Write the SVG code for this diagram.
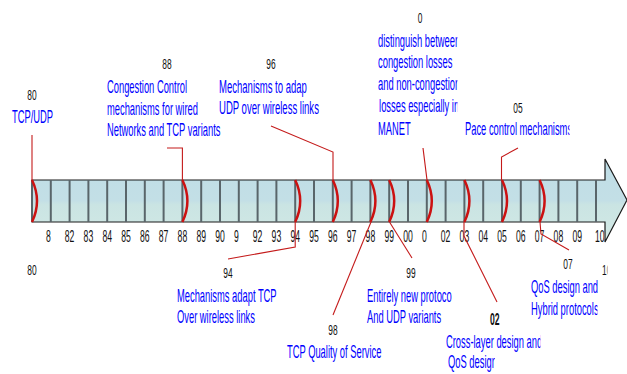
<svg xmlns="http://www.w3.org/2000/svg" width="627" height="374" viewBox="0 0 627 374">
<style>
.t{font-family:"Liberation Sans",Arial,sans-serif;font-size:16px;fill:#111}
.y{font-family:"Liberation Sans",Arial,sans-serif;font-size:14px;fill:#111}
.b{font-family:"Liberation Sans",Arial,sans-serif;font-size:17.5px;fill:#0000ff}
.m{text-anchor:middle}
.div{stroke:#59656a;stroke-width:2}
.arc{fill:none;stroke:#cc1111;stroke-width:2.5}
.con{fill:none;stroke:#c41a1a;stroke-width:1.1}
</style>
<defs>
<linearGradient id="g" x1="0" y1="0" x2="0" y2="1">
<stop offset="0" stop-color="#bfdde6"/>
<stop offset="0.5" stop-color="#c3dfe6"/>
<stop offset="0.55" stop-color="#cae4e3"/>
<stop offset="1" stop-color="#d2e9e5"/>
</linearGradient>
<clipPath id="cDist"><rect x="370" y="0" width="87.5" height="150"/></clipPath>
<clipPath id="cPace"><rect x="460" y="115" width="109.5" height="30"/></clipPath>
<clipPath id="cCross"><rect x="440" y="330" width="100.5" height="25"/></clipPath>
<clipPath id="cQoS"><rect x="440" y="352" width="55" height="22"/></clipPath>
<clipPath id="cHyb"><rect x="525" y="298" width="72.5" height="22"/></clipPath>
<clipPath id="c10a"><rect x="585" y="225" width="19" height="20"/></clipPath>
<clipPath id="c10b"><rect x="595" y="260" width="12.5" height="20"/></clipPath>
</defs>

<g id="ticks">
<text class="t" transform="translate(46,242) scale(0.54,1)">8</text>
<text class="t m" transform="translate(69.6,242) scale(0.54,1)">82</text>
<text class="t m" transform="translate(88.4,242) scale(0.54,1)">83</text>
<text class="t m" transform="translate(107.2,242) scale(0.54,1)">84</text>
<text class="t m" transform="translate(126,242) scale(0.54,1)">85</text>
<text class="t m" transform="translate(144.8,242) scale(0.54,1)">86</text>
<text class="t m" transform="translate(163.6,242) scale(0.54,1)">87</text>
<text class="t m" transform="translate(182.4,242) scale(0.54,1)">88</text>
<text class="t m" transform="translate(201.2,242) scale(0.54,1)">89</text>
<text class="t m" transform="translate(220,242) scale(0.54,1)">90</text>
<text class="t" transform="translate(234,242) scale(0.54,1)">9</text>
<text class="t m" transform="translate(257.6,242) scale(0.54,1)">92</text>
<text class="t m" transform="translate(276.4,242) scale(0.54,1)">93</text>
<text class="t m" transform="translate(295.2,242) scale(0.54,1)">94</text>
<text class="t m" transform="translate(314,242) scale(0.54,1)">95</text>
<text class="t m" transform="translate(332.8,242) scale(0.54,1)">96</text>
<text class="t m" transform="translate(351.6,242) scale(0.54,1)">97</text>
<text class="t m" transform="translate(370.4,242) scale(0.54,1)">98</text>
<text class="t m" transform="translate(389.2,242) scale(0.54,1)">99</text>
<text class="t m" transform="translate(408,242) scale(0.54,1)">00</text>
<text class="t" transform="translate(422,242) scale(0.54,1)">0</text>
<text class="t m" transform="translate(445.6,242) scale(0.54,1)">02</text>
<text class="t m" transform="translate(464.4,242) scale(0.54,1)">03</text>
<text class="t m" transform="translate(483.2,242) scale(0.54,1)">04</text>
<text class="t m" transform="translate(502,242) scale(0.54,1)">05</text>
<text class="t m" transform="translate(520.8,242) scale(0.54,1)">06</text>
<text class="t m" transform="translate(539.6,242) scale(0.54,1)">07</text>
<text class="t m" transform="translate(558.4,242) scale(0.54,1)">08</text>
<text class="t m" transform="translate(577.2,242) scale(0.54,1)">09</text>
<g clip-path="url(#c10a)"><text class="t" transform="translate(595,242) scale(0.54,1)">10</text></g>
</g>

<g id="timeline">
<polygon points="32,180 605,180 605,159 627,200 605,242 605,222 32,222" fill="url(#g)" stroke="#1a1a1a" stroke-width="1.2"/>
<g class="div">
<line x1="32" y1="180" x2="32" y2="222"/><line x1="50.8" y1="180" x2="50.8" y2="222"/><line x1="69.6" y1="180" x2="69.6" y2="222"/><line x1="88.4" y1="180" x2="88.4" y2="222"/><line x1="107.2" y1="180" x2="107.2" y2="222"/><line x1="126" y1="180" x2="126" y2="222"/><line x1="144.8" y1="180" x2="144.8" y2="222"/><line x1="163.6" y1="180" x2="163.6" y2="222"/><line x1="182.4" y1="180" x2="182.4" y2="222"/><line x1="201.2" y1="180" x2="201.2" y2="222"/><line x1="220" y1="180" x2="220" y2="222"/><line x1="238.8" y1="180" x2="238.8" y2="222"/><line x1="257.6" y1="180" x2="257.6" y2="222"/><line x1="276.4" y1="180" x2="276.4" y2="222"/><line x1="295.2" y1="180" x2="295.2" y2="222"/><line x1="314" y1="180" x2="314" y2="222"/><line x1="332.8" y1="180" x2="332.8" y2="222"/><line x1="351.6" y1="180" x2="351.6" y2="222"/><line x1="370.4" y1="180" x2="370.4" y2="222"/><line x1="389.2" y1="180" x2="389.2" y2="222"/><line x1="408" y1="180" x2="408" y2="222"/><line x1="426.8" y1="180" x2="426.8" y2="222"/><line x1="445.6" y1="180" x2="445.6" y2="222"/><line x1="464.4" y1="180" x2="464.4" y2="222"/><line x1="483.2" y1="180" x2="483.2" y2="222"/><line x1="502" y1="180" x2="502" y2="222"/><line x1="520.8" y1="180" x2="520.8" y2="222"/><line x1="539.6" y1="180" x2="539.6" y2="222"/><line x1="558.4" y1="180" x2="558.4" y2="222"/><line x1="577.2" y1="180" x2="577.2" y2="222"/><line x1="596" y1="180" x2="596" y2="222"/>
</g>
<g class="arc">
<path d="M32 180 Q42 201 32 222"/><path d="M182.4 180 Q192.4 201 182.4 222"/><path d="M295.2 180 Q305.2 201 295.2 222"/><path d="M332.8 180 Q342.8 201 332.8 222"/><path d="M370.4 180 Q380.4 201 370.4 222"/><path d="M389.2 180 Q399.2 201 389.2 222"/><path d="M426.8 180 Q436.8 201 426.8 222"/><path d="M464.4 180 Q474.4 201 464.4 222"/><path d="M502 180 Q512 201 502 222"/><path d="M539.6 180 Q549.6 201 539.6 222"/>
</g>
</g>

<g id="connectors" class="con">
<path d="M32 135 V180"/>
<path d="M167 148 H182.4 V180"/>
<path d="M271 126 L333 152 V180"/>
<path d="M423 148 L427 180"/>
<path d="M518 148 L501.5 157 V180"/>
<path d="M295.2 222 V247 L228 259"/>
<path d="M371 222 L333 315"/>
<path d="M389.5 222 L412 258"/>
<path d="M464 222 V236 L497 302"/>
<path d="M540 222 L541 234 L569 250"/>
</g>

<g id="e80">
<text class="y m" transform="translate(32,100) scale(0.6,1)">80</text>
<text class="b" transform="translate(12,123) scale(0.535,1)">TCP/UDP</text>
</g>
<g id="e88">
<text class="y m" transform="translate(167,69) scale(0.6,1)">88</text>
<text class="b" transform="translate(107,93) scale(0.535,1)"><tspan x="0" y="0">Congestion Control</tspan><tspan x="0" y="22">mechanisms for wired</tspan><tspan x="0" y="43.5">Networks and TCP variants</tspan></text>
</g>
<g id="e96">
<text class="y m" transform="translate(271,69) scale(0.6,1)">96</text>
<text class="b" transform="translate(219,93) scale(0.545,1)"><tspan x="0" y="0">Mechanisms to adap</tspan><tspan x="0" y="21.5">UDP over wireless links</tspan></text>
</g>
<g id="e01">
<text class="y m" transform="translate(420,23) scale(0.6,1)">0</text>
<g clip-path="url(#cDist)">
<text class="b" transform="translate(378,47) scale(0.535,1)"><tspan x="0" y="0">distinguish between</tspan><tspan x="0" y="21.5">congestion losses</tspan><tspan x="0" y="43">and non-congestion</tspan><tspan x="2" y="65.5">losses especially in</tspan><tspan x="0" y="88">MANET</tspan></text>
</g>
</g>
<g id="e05">
<text class="y m" transform="translate(518,113) scale(0.6,1)">05</text>
<g clip-path="url(#cPace)"><text class="b" transform="translate(465,135) scale(0.535,1)">Pace control mechanisms</text></g>
</g>
<g id="e80b">
<text class="y m" transform="translate(32,275) scale(0.6,1)">80</text>
</g>
<g id="e94">
<text class="y m" transform="translate(228,278) scale(0.6,1)">94</text>
<text class="b" transform="translate(177,302) scale(0.535,1)"><tspan x="0" y="0">Mechanisms adapt TCP</tspan><tspan x="0" y="21.5">Over wireless links</tspan></text>
</g>
<g id="e98">
<text class="y m" transform="translate(333,335) scale(0.6,1)">98</text>
<text class="b" transform="translate(287,358) scale(0.535,1)">TCP Quality of Service</text>
</g>
<g id="e99">
<text class="y m" transform="translate(411,278) scale(0.6,1)">99</text>
<text class="b" transform="translate(367,302) scale(0.535,1)"><tspan x="0" y="0">Entirely new protoco</tspan><tspan x="0" y="21.5">And UDP variants</tspan></text>
</g>
<g id="e03">
<text class="t" font-weight="bold" transform="translate(490,325) scale(0.54,1)">02</text>
<g clip-path="url(#cCross)"><text class="b" transform="translate(446,348) scale(0.535,1)">Cross-layer design and</text></g>
<g clip-path="url(#cQoS)"><text class="b" transform="translate(448,368) scale(0.535,1)">QoS design</text></g>
</g>
<g id="e07">
<text class="y m" transform="translate(568,269) scale(0.6,1)">07</text>
<text class="b" transform="translate(531,293) scale(0.535,1)">QoS design and</text>
<g clip-path="url(#cHyb)"><text class="b" transform="translate(531,315) scale(0.535,1)">Hybrid protocols</text></g>
</g>
<g id="e10">
<g clip-path="url(#c10b)"><text class="y" transform="translate(602,275) scale(0.6,1)">10</text></g>
</g>
</svg>
